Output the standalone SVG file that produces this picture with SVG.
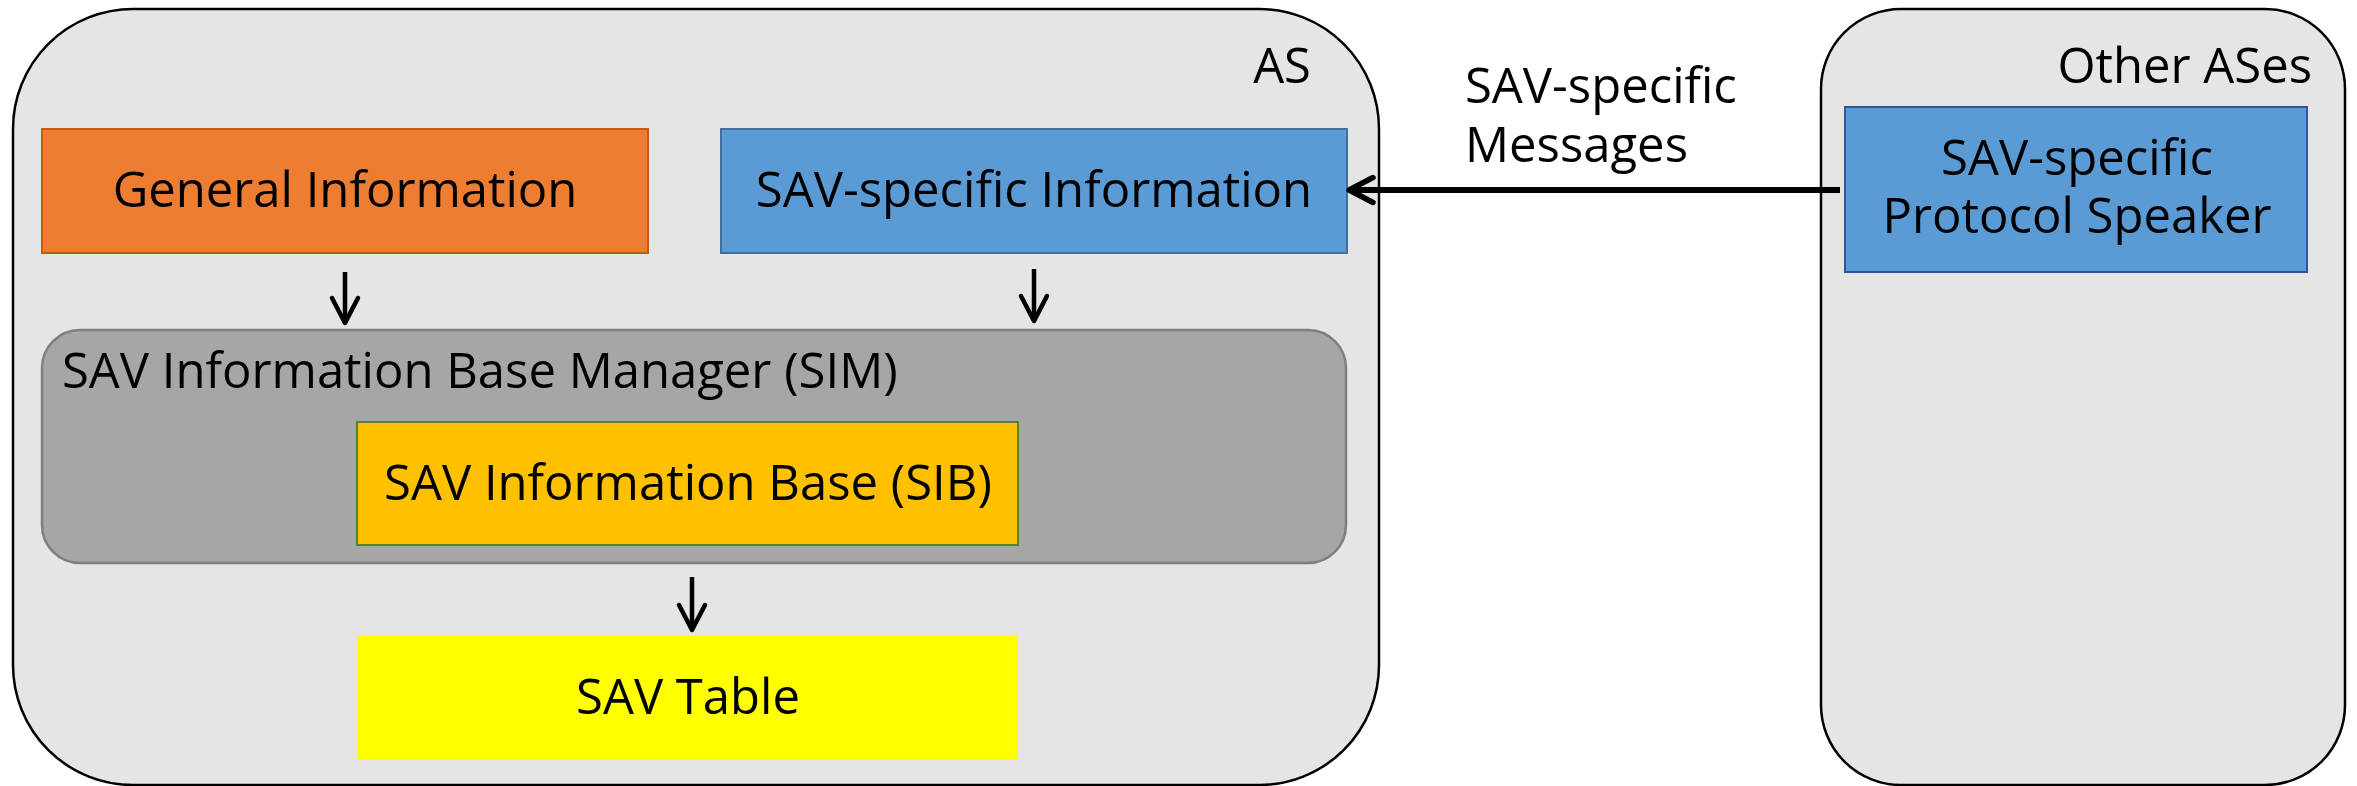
<svg xmlns="http://www.w3.org/2000/svg" width="2357" height="786" viewBox="0 0 2357 786">
  <style>
    .label { font-family: "Open Sans", "Noto Sans", "DejaVu Sans", sans-serif; font-size: 49px; fill: #000; }
    .mid { text-anchor: middle; }
    .end { text-anchor: end; }
    .container { fill: #E5E5E5; stroke: #000; stroke-width: 2.5; }
    .link { fill: none; stroke: #000; stroke-width: 4.5; }
    .link-thick { fill: none; stroke: #000; stroke-width: 6; }
  </style>
  <defs>
    <marker id="vhead" markerUnits="userSpaceOnUse" markerWidth="40" markerHeight="40" viewBox="0 0 40 40" refX="29" refY="20" orient="auto">
      <path d="M4,7 L29,20 L4,33" fill="none" stroke="#000" stroke-width="4.5" stroke-linecap="round" stroke-linejoin="round"/>
    </marker>
    <marker id="vhead-thick" markerUnits="userSpaceOnUse" markerWidth="40" markerHeight="40" viewBox="0 0 40 40" refX="29" refY="20" orient="auto">
      <path d="M5,7.5 L29,20 L5,32.5" fill="none" stroke="#000" stroke-width="5.5" stroke-linecap="round" stroke-linejoin="round"/>
    </marker>
  </defs>

  <!-- local AS container -->
  <g id="as">
    <rect class="container" x="13" y="9" width="1366" height="776" rx="120" ry="120"/>
    <text class="label end" x="1311" y="83">AS</text>
  </g>

  <!-- neighbouring ASes container -->
  <g id="other-ases">
    <rect class="container" x="1821" y="9" width="524" height="776" rx="80" ry="80"/>
    <text class="label end" x="2312" y="83">Other ASes</text>
  </g>

  <g id="general-information">
    <rect x="42" y="129" width="606" height="124" fill="#ED7D31" stroke="#C55A11" stroke-width="2"/>
    <text class="label mid" x="345" y="207">General Information</text>
  </g>

  <g id="sav-specific-information">
    <rect x="721" y="129" width="626" height="124" fill="#5B9BD5" stroke="#41719C" stroke-width="2"/>
    <text class="label mid" x="1034" y="207">SAV-specific Information</text>
  </g>

  <g id="sim">
    <rect x="42" y="330" width="1304" height="233" rx="38" ry="38" fill="#A6A6A6" stroke="#7F7F7F" stroke-width="2.5"/>
    <text class="label" x="62" y="388">SAV Information Base Manager (SIM)</text>
  </g>

  <g id="sib">
    <rect x="357" y="422" width="661" height="123" fill="#FFC000" stroke="#548235" stroke-width="2"/>
    <text class="label mid" x="688" y="500">SAV Information Base (SIB)</text>
  </g>

  <g id="sav-table">
    <rect x="357" y="635" width="661" height="124" fill="#FFFF00"/>
    <text class="label mid" x="688" y="714">SAV Table</text>
  </g>

  <g id="protocol-speaker">
    <rect x="1845" y="107" width="462" height="165" fill="#5B9BD5" stroke="#2F5597" stroke-width="2"/>
    <text class="label mid" x="2077" y="175">SAV-specific</text>
    <text class="label mid" x="2077" y="233">Protocol Speaker</text>
  </g>

  <!-- connectors -->
  <g id="connectors">
    <line class="link" x1="345" y1="272" x2="345" y2="323" marker-end="url(#vhead)"/>
    <line class="link" x1="1034" y1="269" x2="1034" y2="321" marker-end="url(#vhead)"/>
    <line class="link" x1="692" y1="577" x2="692" y2="630" marker-end="url(#vhead)"/>
    <line class="link-thick" x1="1840" y1="190" x2="1349" y2="190" marker-end="url(#vhead-thick)"/>
    <text class="label" x="1465" y="103">SAV-specific</text>
    <text class="label" x="1465" y="162">Messages</text>
  </g>
</svg>
